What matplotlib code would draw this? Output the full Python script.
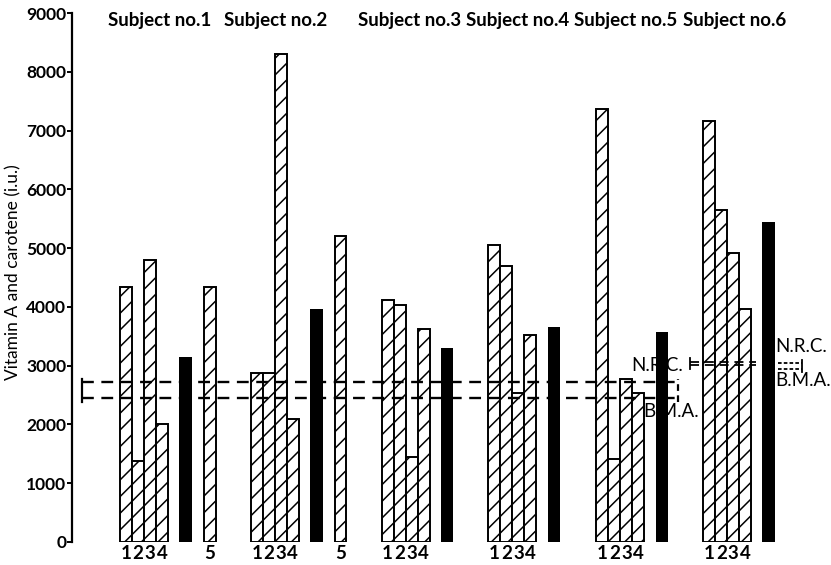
import matplotlib
matplotlib.use("Agg")
import matplotlib.pyplot as plt

# ---- data ----
subjects = ["Subject no.1", "Subject no.2", "Subject no.3",
            "Subject no.4", "Subject no.5", "Subject no.6"]
# hatched bars 1-4 for each subject
period_1 = [4330, 2870, 4120, 5060, 7370, 7170]
period_2 = [1380, 2870, 4030, 4700, 1420, 5650]
period_3 = [4800, 8300, 1450, 2530, 2780, 4920]
period_4 = [2000, 2100, 3620, 3530, 2540, 3960]
# solid black bar (mean) for each subject
mean_values = [3150, 3970, 3300, 3650, 3580, 5450]
# extra hatched bar "5" (subjects 1 and 2 only)
period_5 = [4330, 5200, None, None, None, None]
period_labels = ["1", "2", "3", "4"]

nrc_level = 2720
bma_level = 2450
key_nrc = 3070
key_bma = 3010

# ---- layout ----
PX = 12.0                       # one bar width in pixels
GROUP_START = [4.0, 14.9, 25.8, 34.7, 43.7, 52.6]
TITLE_X = [7.3, 17.0, 28.1, 37.1, 46.1, 55.25]
BLACK_OFFSET = 4.95
FIFTH_OFFSET = 7.0
FONT = "Lato"

plt.rcParams["hatch.linewidth"] = 1.1

fig = plt.figure(figsize=(8.31, 5.65), dpi=100, facecolor="white")
ax = fig.add_axes([72 / 831, 23 / 565, 759 / 831, 529 / 565])
ax.set_xlim(0, 759 / PX)
ax.set_ylim(0, 9000)

periods = [period_1, period_2, period_3, period_4]
tick_pos, tick_lab = [], []
for g, start in enumerate(GROUP_START):
    for k, series in enumerate(periods):
        x = start + k + 0.5
        ax.bar(x, series[g], width=1.0, facecolor="white", edgecolor="black",
               hatch="//", linewidth=1.4, zorder=2)
        tick_pos.append(x)
        tick_lab.append(period_labels[k])
    ax.bar(start + BLACK_OFFSET + 0.5, mean_values[g], width=1.05,
           color="black", linewidth=0, zorder=2)
    if period_5[g] is not None:
        x = start + FIFTH_OFFSET + 0.5
        ax.bar(x, period_5[g], width=0.95, facecolor="white", edgecolor="black",
               hatch="//", linewidth=1.4, zorder=2)
        tick_pos.append(x)
        tick_lab.append("5")
    ax.text(TITLE_X[g], 8870, subjects[g], ha="center", va="center",
            fontsize=13.5, fontweight="bold", family=FONT, color="black")

# reference levels (N.R.C. and B.M.A.)
dash = (0, (5, 3.2))
x0, x1 = 0.85, 50.5
for lvl in (nrc_level, bma_level):
    ax.plot([x0, x1], [lvl, lvl], color="black", lw=1.7, linestyle=dash,
            zorder=3)
ax.plot([x0, x0], [bma_level - 60, nrc_level + 60], color="black", lw=1.6,
        zorder=3)
ax.plot([x1, x1], [bma_level - 60, nrc_level + 60], color="black", lw=1.6,
        linestyle=(0, (3, 2)), zorder=3)
ax.text(46.6, 3010, "N.R.C.", ha="left", va="center", fontsize=13.5,
        family=FONT, color="black", zorder=4)
ax.text(47.6, 2220, "B.M.A.", ha="left", va="center", fontsize=13.5,
        family=FONT, color="black", zorder=4)

# short key beside subject 6
k0, k1 = 51.5, 57.0
for lvl in (key_nrc, key_bma):
    ax.plot([k0, k1], [lvl, lvl], color="black", lw=1.3, linestyle=dash,
            zorder=3)
ax.plot([k0, k0], [key_bma - 60, key_nrc + 60], color="black", lw=1.3, zorder=3)
for lvl in (key_nrc - 20, key_bma - 60):
    ax.plot([58.8, 60.8], [lvl, lvl], color="black", lw=1.3,
            linestyle=(0, (2, 1.2)), zorder=3)
ax.plot([60.8, 60.8], [key_bma - 120, key_nrc + 30], color="black", lw=1.3,
        zorder=3)
ax.text(58.6, 3330, "N.R.C.", ha="left", va="center", fontsize=13.5,
        family=FONT, color="black")
ax.text(58.6, 2740, "B.M.A.", ha="left", va="center", fontsize=13.5,
        family=FONT, color="black")

# axes styling
for side in ("top", "right", "bottom"):
    ax.spines[side].set_visible(False)
ax.spines["left"].set_linewidth(1.6)
ax.set_yticks(range(0, 9001, 1000))
ax.set_yticklabels([str(v) for v in range(0, 9001, 1000)], fontsize=12.5,
                   family=FONT, fontweight="bold")
ax.tick_params(axis="y", direction="out", length=3.5, width=1.4, pad=0.5)
ax.set_xticks(tick_pos)
ax.set_xticklabels(tick_lab, fontsize=13.5, family=FONT, fontweight="bold")
ax.tick_params(axis="x", length=0, pad=2)
ax.set_ylabel("Vitamin A and carotene (i.u.)", fontsize=12.5, family=FONT)
ax.yaxis.set_label_coords(-0.066, 0.51)

fig.savefig("out.png", dpi=100, facecolor="white")
